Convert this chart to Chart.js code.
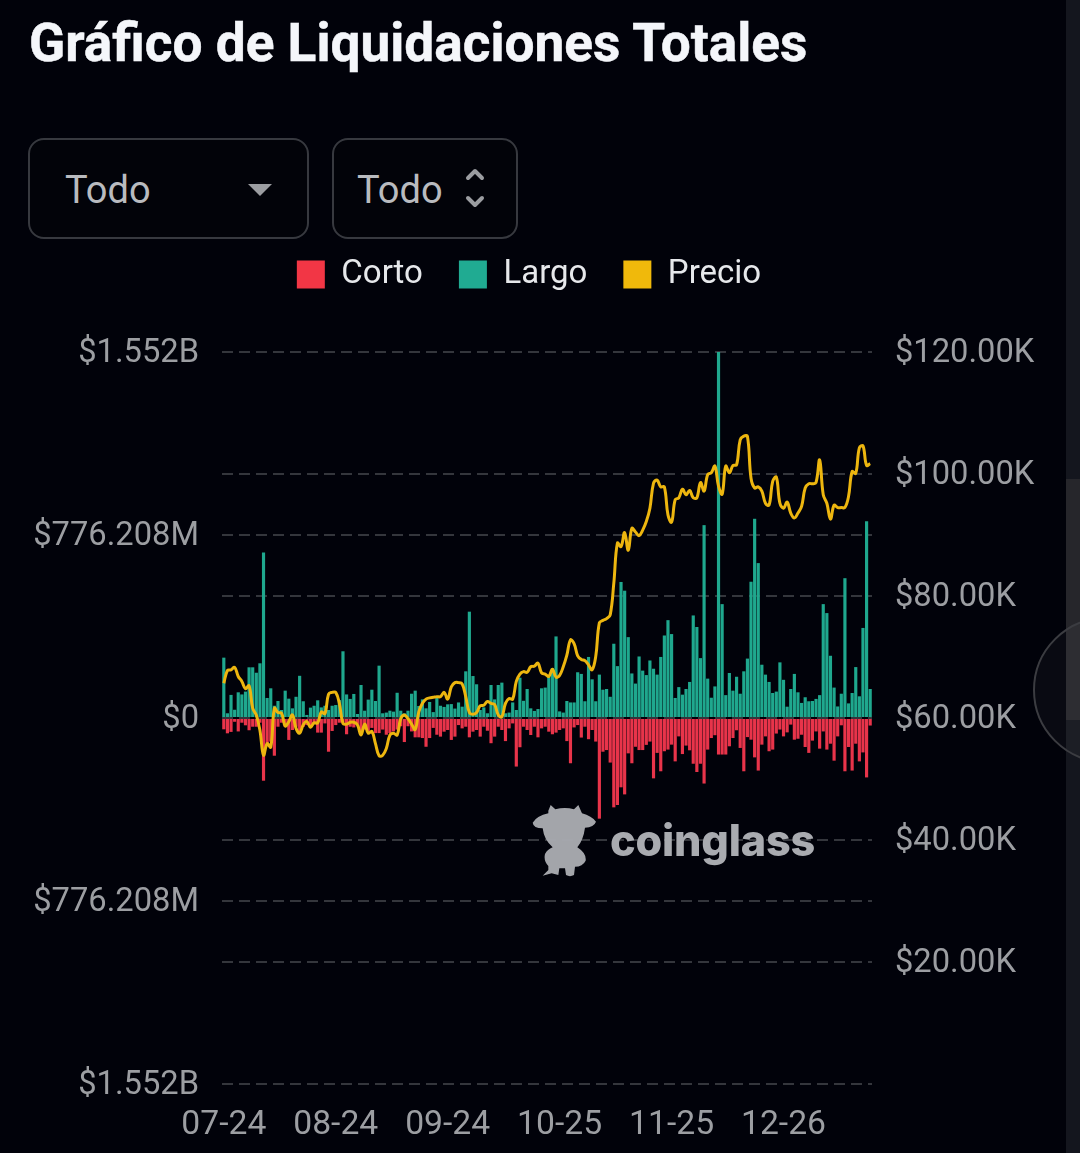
<!DOCTYPE html>
<html lang="es">
<head>
<meta charset="utf-8">
<title>Gráfico de Liquidaciones Totales</title>
<script src="https://cdn.jsdelivr.net/npm/chart.js@4"></script>
<style>
html,body{margin:0;padding:0;background:#01020a;width:1080px;height:1153px;overflow:hidden}
body{position:relative;font-family:Roboto,sans-serif}
#title{position:absolute;left:29px;top:13px;margin:0;font:700 53.2px/60px Roboto,sans-serif;-webkit-text-stroke:.5px #f4f6fa;color:#f4f6fa;white-space:nowrap}
.sel{position:absolute;top:138px;height:101px;box-sizing:border-box;border:2px solid #37393f;border-radius:16px;background:#020309;color:#b9bbbf;font:400 38px/101px Roboto,sans-serif}
.sel span{position:absolute;top:0}
#strip{position:absolute;left:1066px;top:0;width:14px;height:1153px;background:#14161e}
#thumb{position:absolute;left:1066px;top:479px;width:14px;height:241px;background:#26262b}
#fab{position:absolute;left:1033px;top:617px;width:146px;height:146px;box-sizing:border-box;border-radius:50%;border:2px solid #3b3c41;background:rgba(255,255,255,.035)}
canvas{position:absolute;left:0;top:222px}
#wm{position:absolute;left:520px;top:790px;width:310px;height:100px;opacity:.97}
#wmt{position:absolute;left:610px;top:812px;font:800 43.2px/56px Inter,sans-serif;letter-spacing:-.2px;color:#a9abb0;white-space:nowrap}
</style>
</head>
<body>
<div id="strip"></div><div id="thumb"></div><div id="fab"></div>
<h1 id="title">Gráfico de Liquidaciones Totales</h1>
<div class="sel" style="left:28px;width:281px"><span style="left:35px">Todo</span>
<svg style="position:absolute;left:217px;top:43px" width="26" height="14"><path d="M1 1H25L13 13Z" fill="#9b9da1"/></svg></div>
<div class="sel" style="left:332px;width:186px"><span style="left:23px">Todo</span>
<svg style="position:absolute;left:128px;top:28px" width="26" height="42" fill="none" stroke="#9b9da1" stroke-width="4" stroke-linecap="round" stroke-linejoin="round"><path d="M6 10L13 3L20 10M6 30L13 37L20 30"/></svg></div>
<canvas id="c" width="1058" height="931"></canvas>
<svg id="wm" viewBox="0 0 930 300"><path fill="#a9abb0" d="M85 62L92 45L106 58Q135 50 162 58L175 45L186 70Q215 78 228 95Q222 112 195 113Q190 150 172 172Q200 190 197 212Q188 230 165 230L162 255Q150 262 138 255L135 235L118 235L115 255L95 250L68 257L85 240L85 228Q70 212 75 192Q82 178 98 172Q72 150 68 115Q40 115 38 98Q50 78 85 70Z"/></svg>
<div id="wmt">coinglass</div>
<script>
const categories = ["07-24","07-25","07-26","07-27","07-28","07-29","07-30","07-31","08-01","08-02","08-03","08-04","08-05","08-06","08-07","08-08","08-09","08-10","08-11","08-12","08-13","08-14","08-15","08-16","08-17","08-18","08-19","08-20","08-21","08-22","08-23","08-24","08-25","08-26","08-27","08-28","08-29","08-30","08-31","09-01","09-02","09-03","09-04","09-05","09-06","09-07","09-08","09-09","09-10","09-11","09-12","09-13","09-14","09-15","09-16","09-17","09-18","09-19","09-20","09-21","09-22","09-23","09-24","09-25","09-26","09-27","09-28","09-29","09-30","10-01","10-02","10-03","10-04","10-05","10-06","10-07","10-08","10-09","10-10","10-11","10-12","10-13","10-14","10-15","10-16","10-17","10-18","10-19","10-20","10-21","10-22","10-23","10-24","10-25","10-26","10-27","10-28","10-29","10-30","10-31","11-01","11-02","11-03","11-04","11-05","11-06","11-07","11-08","11-09","11-10","11-11","11-12","11-13","11-14","11-15","11-16","11-17","11-18","11-19","11-20","11-21","11-22","11-23","11-24","11-25","11-26","11-27","11-28","11-29","11-30","12-01","12-02","12-03","12-04","12-05","12-06","12-07","12-08","12-09","12-10","12-11","12-12","12-13","12-14","12-15","12-16","12-17","12-18","12-19","12-20","12-21","12-22","12-23","12-24","12-25","12-26","12-27","12-28","12-29","12-30","12-31","01-01","01-02","01-03","01-04","01-05","01-06","01-07","01-08","01-09","01-10","01-11","01-12","01-13","01-14","01-15","01-16","01-17","01-18","01-19"];
// Liquidations in millions of USD
const largo = [256,20,98,35,109,100,112,215,215,192, 232,702,85,126,52,72,34,116,82,41, 90,179,71,13,44,52,75,45,52,34, 52,55,76,283,100,81,102,17,140,31, 78,120,72,222,20,23,31,27,107,31, 20,31,103,116,51,79,41,68,25,86, 52,47,58,59,40,66,48,198,451,178, 143,34,45,20,140,79,140,150,20,23, 66,34,171,73,123,41,30,38,126,129, 175,211,346,28,23,72,66,66,194,187, 71,259,164,71,184,120,123,90,315,220, 577,540,343,189,146,261,201,182,244,209, 184,259,350,415,356,85,131,99,123,153, 435,386,254,818,167,86,134,1552,483,97, 191,116,175,103,198,252,578,845,657,226, 184,153,106,112,236,162,48,123,187,109, 64,88,71,72,81,97,483,445,264,129, 49,103,593,62,106,216,92,382,834,123];
const corto = [-48,-65,-59,-16,-57,-20,-31,-52,-37,-37, -20,-266,-107,-100,-160,-37,-20,-37,-93,-51, -37,-58,-37,-30,-37,-23,-62,-62,-23,-143, -55,-30,-20,-20,-69,-37,-40,-25,-57,-49, -57,-42,-64,-64,-49,-71,-64,-57,-49,-35, -102,-35,-57,-82,-82,-85,-122,-85,-42,-71, -79,-58,-51,-93,-79,-30,-44,-37,-82,-58, -51,-79,-37,-54,-107,-79,-37,-51,-98,-44, -23,-206,-124,-37,-51,-72,-37,-82,-44,-37, -58,-69,-62,-51,-44,-98,-192,-40,-30,-83, -37,-90,-51,-100,-427,-143,-136,-189,-379,-369, -294,-324,-150,-192,-122,-136,-136,-114,-100,-256, -148,-226,-141,-134,-113,-184,-78,-153,-117,-137, -194,-229,-194,-278,-134,-85,-73,-155,-155,-155, -120,-85,-52,-127,-226,-81,-92,-167,-223,-113, -78,-141,-134,-66,-49,-78,-61,-28,-92,-88, -71,-123,-148,-96,-57,-130,-57,-134,-109,-181, -78,-31,-226,-123,-223,-109,-184,-146,-252,-32];
// BTC price in USD
const precio = [65700,67800,67900,68300,66800,66000,64800,65300,61600,60500, 58000,53900,55800,55200,61600,60900,60800,58700,59400,60500, 58300,57500,58900,59400,58500,59200,59200,61000,60700,63900, 64200,64200,62400,59100,59000,59300,59300,58900,57200,59000, 57500,57800,55800,53800,53900,55000,57200,57500,57200,59900, 60500,59900,59000,58100,61000,62400,63100,63300,63400,63500, 63500,64200,63100,65100,65800,65800,65600,63500,60900,60600, 60900,62000,62100,62700,62400,62200,60500,60200,62400,63200, 63100,66000,67200,67600,67500,68400,68500,69000,67400,67200, 66800,68000,66700,67000,68400,70300,72800,72200,70200,69600, 69400,68700,67900,70100,75600,76000,76300,76900,82100,88700, 88100,90400,87500,91100,90500,89900,90800,92200,94400,98500, 99000,97900,97900,93300,92100,95800,96100,97500,96600,97300, 96100,96100,98600,97200,99900,100200,101300,98000,96700,101300, 100200,101400,101500,105600,106200,106200,99300,97700,97900,97200, 95200,94900,98800,99500,95200,94400,95400,93600,92800,93600, 94700,97700,98400,98400,98600,102300,96600,95200,92600,94900, 94500,94500,94500,96300,100400,100100,104300,104600,101400,101700];
const seriesNames = ["Corto","Largo","Precio"];
const xTickEvery = 31;
const leftAxisMax = 1552.416, leftAxisStep = 776.208;
const rightAxisMin = 0, rightAxisMax = 120000, rightAxisStep = 20000;

const RED="#e8344a", GREEN="#1fa88e", YELLOW="#edb60f", TICK="#9c9ea2", GRID="#34363c";
const LEGEND_COLORS=["#f23645","#20ab92","#f0b90b"];
const tickFont={family:"Roboto",size:32.7,weight:"400"};
const grid={color:GRID,lineWidth:2,drawTicks:false};
const gridDash={dash:[11,6]};

new Chart(document.getElementById("c"),{
  data:{labels:categories,datasets:[
    {type:"bar",label:seriesNames[0],data:corto,backgroundColor:RED,borderWidth:0,yAxisID:"y",stack:"s",barPercentage:.88,categoryPercentage:1,order:2},
    {type:"bar",label:seriesNames[1],data:largo,backgroundColor:GREEN,borderWidth:0,yAxisID:"y",stack:"s",barPercentage:.88,categoryPercentage:1,order:2},
    {type:"line",label:seriesNames[2],data:precio,borderColor:YELLOW,backgroundColor:YELLOW,borderWidth:3,pointRadius:0,tension:.4,yAxisID:"y1",order:1}
  ]},
  options:{
    responsive:false,animation:false,devicePixelRatio:1,
    layout:{padding:0},
    plugins:{
      tooltip:{enabled:false},
      legend:{position:"top",align:"center",
        labels:{color:"#e6e8eb",font:{family:"Roboto",size:33},boxWidth:28,boxHeight:28,padding:36,
          sort:(a,b)=>a.datasetIndex-b.datasetIndex,
          generateLabels(chart){return Chart.defaults.plugins.legend.labels.generateLabels(chart).map(l=>({...l,fillStyle:LEGEND_COLORS[l.datasetIndex],strokeStyle:LEGEND_COLORS[l.datasetIndex],lineWidth:0}));}}}
    },
    scales:{
      x:{stacked:true,grid:{display:false},border:{display:false},
        ticks:{color:TICK,font:{family:"Roboto",size:33.7},autoSkip:false,maxRotation:0,minRotation:0,padding:13,
          callback(v,i){return i%xTickEvery===0?categories[i]:"";}},
        afterFit(s){s.height=69;}},
      y:{position:"left",stacked:true,min:-leftAxisMax,max:leftAxisMax,
        grid,border:{display:false,...gridDash},
        afterBuildTicks(s){s.ticks=[-2,-1,0,1,2].map(k=>({value:k*leftAxisStep}));},
        ticks:{color:TICK,font:tickFont,padding:23,
          callback(v){if(Math.abs(v)<1e-6)return "$0";const a=Math.abs(v);return a>=1000?"$"+(a/1000).toFixed(3)+"B":"$"+a.toFixed(3)+"M";}},
        afterFit(s){s.width=222;}},
      y1:{position:"right",min:rightAxisMin,max:rightAxisMax,
        grid,border:{display:false,...gridDash},
        ticks:{color:TICK,font:tickFont,padding:23,stepSize:rightAxisStep,
          callback(v){return v===0?"":"$"+(v/1000).toFixed(2)+"K";}},
        afterFit(s){s.width=186;}}
    }
  },
  plugins:[{id:"legendHeight",beforeInit(chart){const f=chart.legend.fit;chart.legend.fit=function(){f.call(this);this.height=130;};}},
    {id:"labelNudge",beforeDraw(chart){["y","y1"].forEach(id=>{const s=chart.scales[id];s.getLabelItems(chart.chartArea).forEach(it=>{it.options.translation[1]+=2;});});}}]
});
</script>
</body>
</html>
